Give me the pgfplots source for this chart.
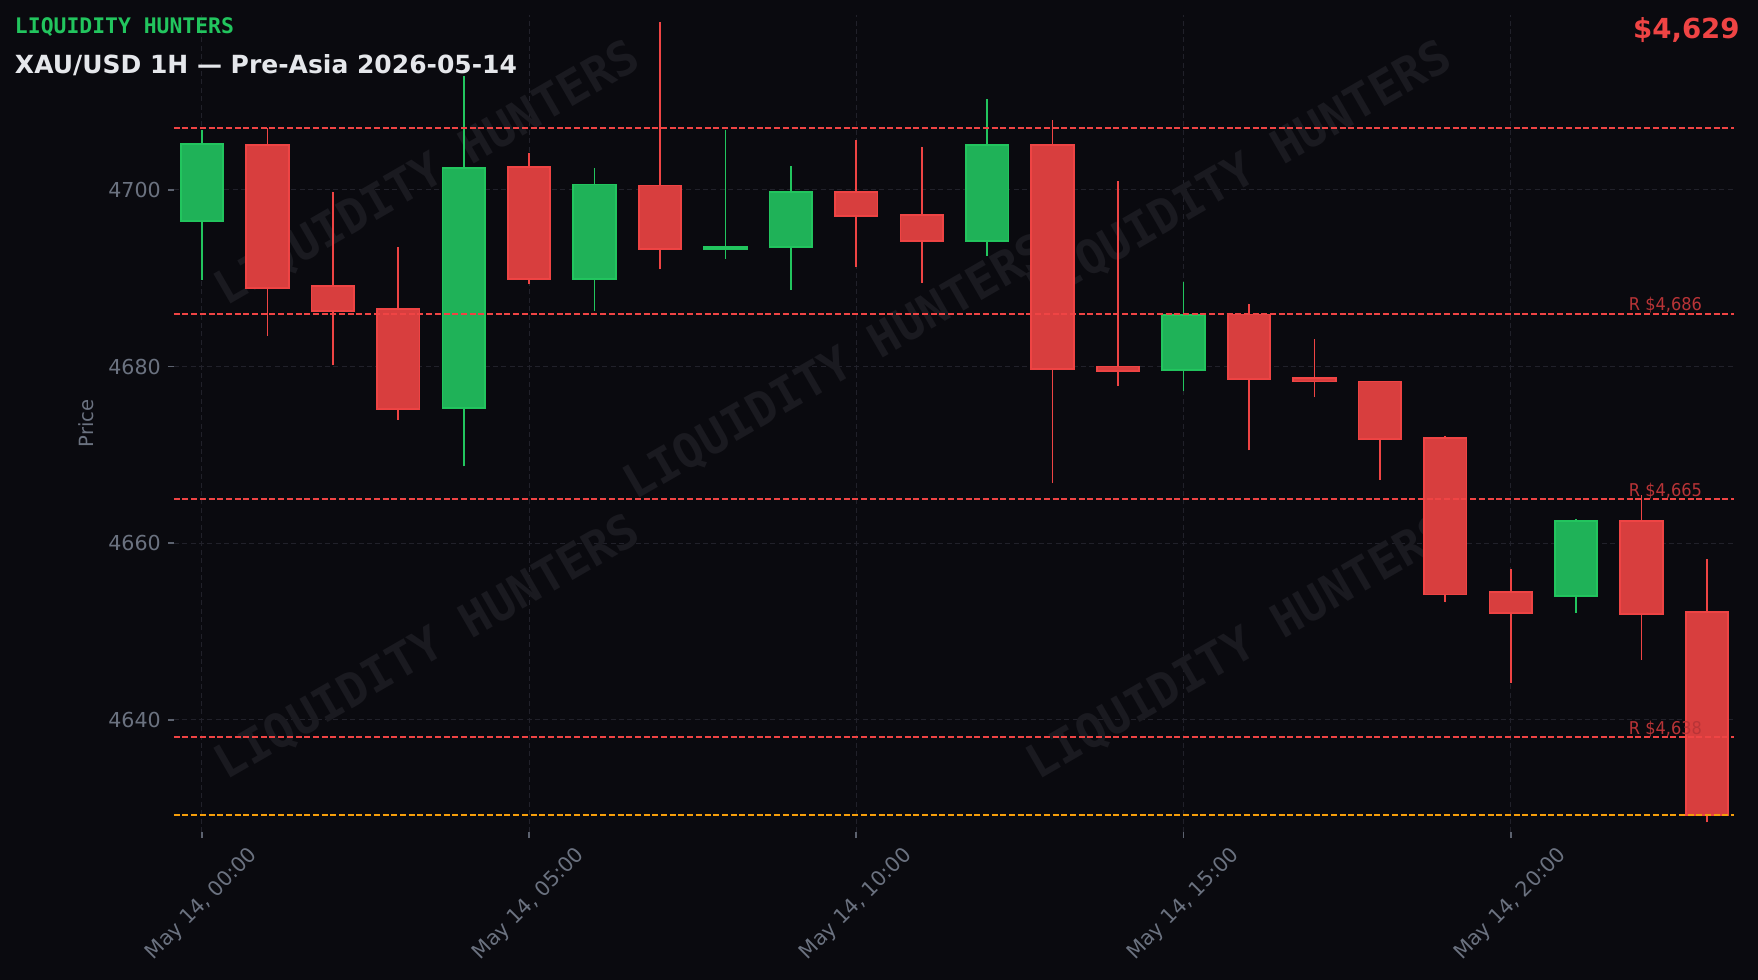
\documentclass[border=0pt]{standalone}
\usepackage{fontspec}
\setmainfont{DejaVu Sans}
\newfontfamily\monofont{DejaVu Sans Mono}
\usepackage{pgfplots}
\usepackage{pgfplotstable}
\pgfplotsset{compat=1.18}
\usepgfplotslibrary{statistics}

\definecolor{bg}{RGB}{10,10,15}
\definecolor{gridc}{RGB}{33,33,42}
\definecolor{tickc}{RGB}{107,114,128}
\definecolor{upE}{RGB}{34,197,94}
\definecolor{upF}{RGB}{31,178,88}
\definecolor{dnE}{RGB}{239,68,68}
\definecolor{dnF}{RGB}{216,62,62}
\definecolor{lvltxt}{RGB}{185,52,55}
\definecolor{cur}{RGB}{245,158,11}
\definecolor{wm}{RGB}{26,26,32}
\definecolor{titc}{RGB}{229,231,235}

\tikzset{
  wmark/.style={rotate=30, text=wm, font=\monofont\bfseries\fontsize{23.5}{28}\selectfont},
  lvllab/.style={anchor=base east, inner sep=0pt, text=lvltxt, yshift=1.4pt, xscale=0.92, font=\fontsize{8.8}{10}\selectfont},
}

% hourly OHLC, t = hours after May 14, 00:00
\pgfplotstableread{
t  o      h      l      c
0  4696.5 4706.8 4689.8 4705.2
1  4705.1 4707.0 4683.5 4688.9
2  4689.1 4699.8 4680.2 4686.3
3  4686.5 4693.5 4674.0 4675.2
4  4675.3 4712.9 4668.7 4702.5
5  4702.6 4704.2 4689.3 4689.9
6  4689.9 4702.5 4686.3 4700.6
7  4700.5 4719.0 4691.0 4693.3
8  4693.3 4706.8 4692.2 4693.5
9  4693.5 4702.7 4688.7 4699.8
10 4699.8 4705.7 4691.3 4697.0
11 4697.2 4704.9 4689.5 4694.2
12 4694.2 4710.3 4692.5 4705.1
13 4705.1 4707.9 4666.8 4679.7
14 4680.0 4701.0 4677.8 4679.5
15 4679.6 4689.6 4677.2 4685.8
16 4685.9 4687.1 4670.5 4678.6
17 4678.7 4683.1 4676.5 4678.3
18 4678.3 4678.3 4667.2 4671.8
19 4671.9 4672.1 4653.3 4654.2
20 4654.5 4657.1 4644.2 4652.1
21 4654.0 4662.7 4652.1 4662.5
22 4662.5 4665.4 4646.8 4652.0
23 4652.2 4658.2 4628.4 4629.2
}\candles
\pgfplotstablegetrowsof{\candles}
\pgfmathtruncatemacro\lastrow{\pgfplotsretval-1}

\begin{document}
\begin{tikzpicture}
\fill[bg] (-86.9pt,-74pt) rectangle (792.1pt,416pt);
\begin{axis}[
  at={(0pt,0pt)}, anchor=south west,
  width=780pt, height=408.5pt, scale only axis,
  xmin=-0.43, xmax=23.41, ymin=4627.3, ymax=4719.8,
  axis line style={draw=none},
  tick pos=left, tick align=outside,
  major tick length=3pt,
  tick style={color=tickc!85!bg, line width=0.9pt},
  xtick={0,5,10,15,20},
  xticklabels={{May 14, 00:00},{May 14, 05:00},{May 14, 10:00},{May 14, 15:00},{May 14, 20:00}},
  ytick={4640,4660,4680,4700},
  ticklabel style={color=tickc, font=\fontsize{10.3}{12}\selectfont},
  xticklabel style={yshift=-33.2pt, rotate=45, anchor=center},
  /pgf/number format/1000 sep={},
  /pgf/number format/assume math mode=true,
  grid=major,
  major grid style={color=gridc, line width=0.5pt, dash pattern=on 2.5pt off 1.7pt},
  ylabel={Price},
  every axis y label/.style={at={(axis description cs:-0.0563,0.5)}, rotate=90, anchor=center, color=tickc, font=\fontsize{9.8}{12}\selectfont},
  boxplot/draw direction=y,
  boxplot/box extend=0.65,
  boxplot/whisker extend=0,
  boxplot/every median/.style={draw=none},
  boxplot/every whisker/.style={line width=0.85pt},
  bull/.style={draw=upE, fill=upF, line width=0.9pt, boxplot/every box/.style={draw=upE, fill=upF}},
  bear/.style={draw=dnE, fill=dnF, line width=0.9pt, boxplot/every box/.style={draw=dnE, fill=dnF}},
  lvl/.style={color=dnE, line width=1pt, dash pattern=on 3pt off 1.35pt},
]
% watermark
\node[wmark] at (rel axis cs:0.163,0.805) {LIQUIDITY HUNTERS};
\node[wmark] at (rel axis cs:0.683,0.805) {LIQUIDITY HUNTERS};
\node[wmark] at (rel axis cs:0.425,0.568) {LIQUIDITY HUNTERS};
\node[wmark] at (rel axis cs:0.163,0.225) {LIQUIDITY HUNTERS};
\node[wmark] at (rel axis cs:0.683,0.225) {LIQUIDITY HUNTERS};

% candles: one prepared box per row of the table
\pgfplotsinvokeforeach{0,...,\lastrow}{
  \pgfplotstablegetelem{#1}{o}\of\candles \let\vo\pgfplotsretval
  \pgfplotstablegetelem{#1}{h}\of\candles \let\vh\pgfplotsretval
  \pgfplotstablegetelem{#1}{l}\of\candles \let\vl\pgfplotsretval
  \pgfplotstablegetelem{#1}{c}\of\candles \let\vc\pgfplotsretval
  \ifdim\vc pt<\vo pt
    \def\cst{bear}\let\blo\vc\let\bhi\vo
  \else
    \def\cst{bull}\let\blo\vo\let\bhi\vc
  \fi
  \edef\doplot{\noexpand\addplot[\cst,
    boxplot prepared={draw position=#1,
      lower whisker=\vl, lower quartile=\blo, median=\blo,
      upper quartile=\bhi, upper whisker=\vh}] coordinates {};}
  \doplot
}

% levels
\addplot[lvl] coordinates {(-0.43,4707) (23.41,4707)};
\addplot[lvl] coordinates {(-0.43,4686) (23.41,4686)};
\addplot[lvl] coordinates {(-0.43,4665) (23.41,4665)};
\addplot[lvl] coordinates {(-0.43,4638) (23.41,4638)};
\addplot[lvl, cur] coordinates {(-0.43,4629.2) (23.41,4629.2)};
\node[lvllab] at (axis cs:22.93,4686) {R \$4,686};
\node[lvllab] at (axis cs:22.93,4665) {R \$4,665};
\node[lvllab] at (axis cs:22.93,4638) {R \$4,638};
\end{axis}
\node[anchor=base west, inner sep=0pt, text=upE, font=\monofont\bfseries\fontsize{10.7}{12}\selectfont] at (-79.6pt,399.35pt) {LIQUIDITY HUNTERS};
\node[anchor=base west, inner sep=0pt, text=titc, font=\bfseries\fontsize{12.5}{14}\selectfont] at (-79.6pt,379.35pt) {XAU/USD 1H — Pre-Asia 2026-05-14};
\node[anchor=base east, inner sep=0pt, text=dnE, font=\bfseries\fontsize{13.8}{16}\selectfont] at (783.1pt,396.85pt) {\$4,629};
\pgfresetboundingbox
\path (-86.9pt,-74pt) rectangle (792.1pt,416pt);
\end{tikzpicture}
\end{document}
